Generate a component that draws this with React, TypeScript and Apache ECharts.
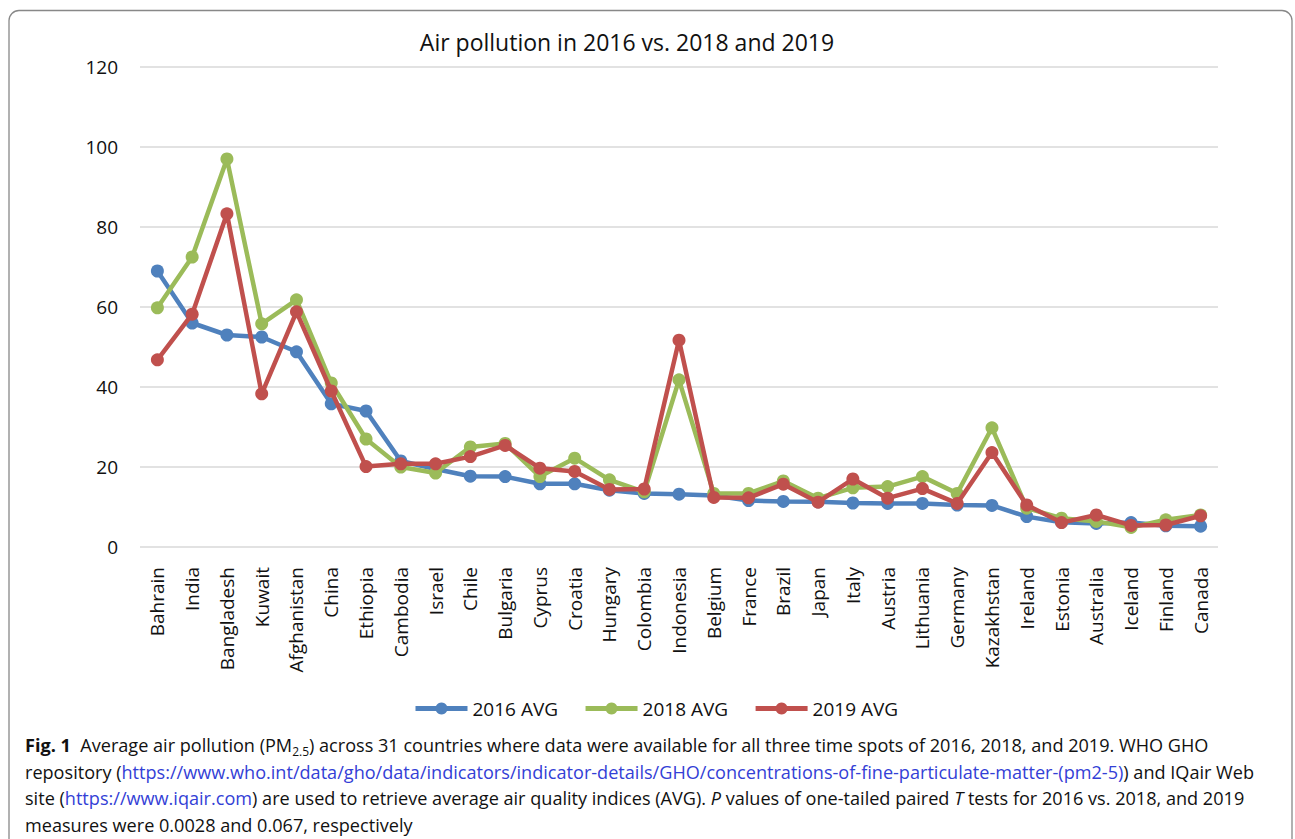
import React, { useEffect, useRef } from "react";
import * as echarts from "echarts";

const categories = [
  "Bahrain", "India", "Bangladesh", "Kuwait", "Afghanistan", "China", "Ethiopia",
  "Cambodia", "Israel", "Chile", "Bulgaria", "Cyprus", "Croatia", "Hungary",
  "Colombia", "Indonesia", "Belgium", "France", "Brazil", "Japan", "Italy",
  "Austria", "Lithuania", "Germany", "Kazakhstan", "Ireland", "Estonia",
  "Australia", "Iceland", "Finland", "Canada",
];

const avg2016 = [
  69, 56, 53, 52.5, 48.8, 35.8, 34, 21.5, 19.5, 17.7, 17.6, 15.8, 15.8, 14.2,
  13.4, 13.2, 12.9, 11.6, 11.4, 11.3, 11, 10.9, 10.9, 10.5, 10.4, 7.6, 6.2, 5.9,
  6.1, 5.3, 5.2,
];

const avg2018 = [
  59.8, 72.5, 97, 55.8, 61.8, 41, 27, 20, 18.5, 25, 25.9, 17.6, 22.2, 16.8,
  13.8, 41.8, 13.4, 13.4, 16.5, 12.2, 14.8, 15.1, 17.6, 13.4, 29.8, 9.7, 7.2,
  6.4, 4.9, 6.8, 8,
];

const avg2019 = [
  46.8, 58.2, 83.3, 38.3, 58.8, 39, 20.1, 20.8, 20.8, 22.6, 25.4, 19.7, 18.9,
  14.4, 14.5, 51.7, 12.4, 12.3, 15.7, 11.2, 17, 12.2, 14.6, 10.9, 23.6, 10.5,
  6.1, 8, 5.4, 5.5, 7.8,
];

const seriesNames = ["2016 AVG", "2018 AVG", "2019 AVG"];
const seriesColors = ["#4F81BD", "#9BBB59", "#C0504D"];

const titleText = "Air pollution in 2016 vs. 2018 and 2019";

const captionLines = [
  "{b|Fig. 1}  Average air pollution (PM{sub|2.5}) across 31 countries where data were available for all three time spots of 2016, 2018, and 2019. WHO GHO",
  "repository ({link|https://www.who.int/data/gho/data/indicators/indicator-details/GHO/concentrations-of-fine-particulate-matter-(pm2-5)}) and IQair Web",
  "site ({link|https://www.iqair.com}) are used to retrieve average air quality indices (AVG). {i|P} values of one-tailed paired {i|T} tests for 2016 vs. 2018, and 2019",
  "measures were 0.0028 and 0.067, respectively",
];

const chartFont = "'Open Sans', Lato, sans-serif";
const captionFont = "'Open Sans', 'Noto Sans', sans-serif";

export default function App() {
  const ref = useRef<HTMLDivElement>(null);

  useEffect(() => {
    if (!ref.current) return;
    const chart = echarts.init(ref.current, null, { renderer: "svg" });
    const data = [avg2016, avg2018, avg2019];

    const capFs = 18.1;
    const rich = {
      b: { fontFamily: captionFont, fontSize: capFs, fontWeight: "bold", fill: "#111", lineHeight: 24 },
      sub: { fontFamily: captionFont, fontSize: 12, fill: "#111", lineHeight: 24, verticalAlign: "bottom", padding: [9, 0, 0, 0] },
      link: { fontFamily: captionFont, fontSize: capFs, fill: "#3340d6", lineHeight: 24 },
      i: { fontFamily: captionFont, fontSize: capFs, fontStyle: "italic", fill: "#111", lineHeight: 24 },
    };

    const captionEls = captionLines.map((t, k) => ({
      type: "text",
      left: 25,
      top: 733 + k * 26.7,
      style: {
        text: t,
        fontFamily: captionFont,
        fontSize: capFs,
        fill: "#111",
        lineHeight: 24,
        rich,
      },
    }));

    chart.setOption({
      animation: false,
      backgroundColor: "#fff",
      textStyle: { fontFamily: chartFont },
      grid: { left: 140, right: 77, top: 67, bottom: 292, containLabel: false },
      legend: {
        data: seriesNames,
        left: 408,
        top: 694,
        itemWidth: 52,
        itemHeight: 15,
        itemGap: 25,
        lineStyle: { width: 5 },
        textStyle: { fontFamily: chartFont, fontSize: 19, color: "#111", padding: [0, 0, 0, 0] },
      },
      xAxis: {
        type: "category",
        data: categories,
        boundaryGap: true,
        axisLine: { show: false },
        axisTick: { show: false },
        axisLabel: {
          rotate: 90,
          margin: 20,
          interval: 0,
          fontFamily: chartFont,
          fontSize: 19,
          color: "#111",
        },
      },
      yAxis: {
        type: "value",
        min: 0,
        max: 120,
        interval: 20,
        axisLine: { show: false },
        axisTick: { show: false },
        axisLabel: { margin: 22, fontFamily: chartFont, fontSize: 19, color: "#111" },
        splitLine: { lineStyle: { color: "#D9D9D9", width: 1.5 } },
      },
      series: seriesNames.map((name, k) => ({
        name,
        type: "line",
        data: data[k],
        symbol: "circle",
        symbolSize: 13,
        color: seriesColors[k],
        lineStyle: { width: 4.5, color: seriesColors[k] },
        itemStyle: { color: seriesColors[k] },
        z: 2 + k,
      })),
      graphic: [
        {
          type: "rect",
          shape: { x: 9, y: 10.5, width: 1283, height: 860, r: 10 },
          style: { fill: "none", stroke: "#888", lineWidth: 1.3 },
          silent: true,
        },
        {
          type: "text",
          x: 627,
          y: 42,
          style: {
            text: titleText,
            fontFamily: chartFont,
            fontSize: 23,
            fill: "#111",
            textAlign: "center",
            textVerticalAlign: "middle",
          },
        },
        ...captionEls,
      ],
    });

    return () => chart.dispose();
  }, []);

  return (
    <div
      ref={ref}
      style={{ position: "fixed", left: 0, top: 0, width: 1295, height: 839, background: "#fff" }}
    />
  );
}
